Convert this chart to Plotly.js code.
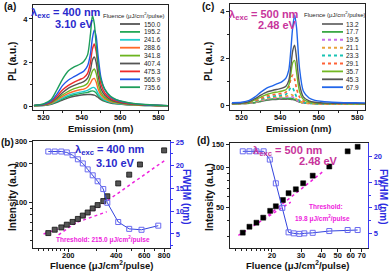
<!DOCTYPE html>
<html><head><meta charset="utf-8">
<script src="https://cdn.plot.ly/plotly-3.0.1.min.js"></script>
<style>html,body{margin:0;padding:0;background:#fff}#chart{width:392px;height:271px}</style>
</head><body><div id="chart"></div>
<script>
// ---------- DATA ----------
const wl = [515,520,524,527,530,533,536,539,541,543,544.5,545.5,546.5,547.5,548.5,550,552,555,558,562,567,573,579,585];

const fluA = ['150.0','195.2','241.6','288.6','341.8','407.4','475.3','565.9','735.6'];
const specA = [
 [0.02,0.03,0.08,0.17,0.28,0.38,0.45,0.50,0.52,0.53,0.53,0.52,0.50,0.46,0.40,0.30,0.22,0.14,0.10,0.07,0.05,0.03,0.02,0.02],
 [0.02,0.04,0.10,0.20,0.33,0.44,0.52,0.57,0.60,0.63,0.68,0.70,0.68,0.60,0.48,0.35,0.24,0.16,0.11,0.08,0.05,0.03,0.02,0.02],
 [0.02,0.04,0.11,0.24,0.38,0.50,0.58,0.64,0.67,0.72,0.80,0.85,0.85,0.75,0.58,0.40,0.27,0.18,0.13,0.09,0.06,0.04,0.03,0.02],
 [0.02,0.05,0.13,0.28,0.45,0.58,0.68,0.75,0.78,0.88,1.05,1.22,1.27,1.10,0.78,0.50,0.33,0.21,0.15,0.10,0.06,0.04,0.03,0.02],
 [0.02,0.05,0.15,0.32,0.52,0.68,0.80,0.88,0.93,1.05,1.35,1.60,1.70,1.50,1.05,0.62,0.40,0.25,0.17,0.11,0.07,0.04,0.03,0.02],
 [0.02,0.06,0.18,0.38,0.62,0.82,0.95,1.05,1.12,1.28,1.65,2.10,2.25,2.00,1.40,0.80,0.50,0.30,0.20,0.13,0.08,0.05,0.03,0.02],
 [0.03,0.07,0.20,0.45,0.75,0.95,1.10,1.22,1.30,1.50,2.00,2.60,2.85,2.50,1.80,1.00,0.60,0.35,0.23,0.15,0.09,0.05,0.03,0.02],
 [0.03,0.08,0.25,0.55,0.95,1.20,1.35,1.50,1.60,1.85,2.40,3.10,3.50,3.20,2.30,1.30,0.75,0.42,0.28,0.18,0.11,0.06,0.04,0.02],
 [0.03,0.10,0.30,0.75,1.25,1.62,1.80,1.92,2.05,2.35,3.30,4.15,3.80,2.80,1.90,1.20,0.78,0.45,0.30,0.20,0.12,0.07,0.04,0.02]
];

const fluC = ['13.2','17.7','19.5','21.1','23.3','29.1','35.7','45.3','67.9'];
const specC = [
 [0.05,0.06,0.08,0.10,0.15,0.20,0.23,0.25,0.25,0.25,0.25,0.24,0.23,0.21,0.18,0.13,0.09,0.07,0.06,0.05,0.05,0.05,0.05,0.05],
 [0.05,0.06,0.08,0.11,0.17,0.22,0.26,0.28,0.29,0.29,0.29,0.29,0.27,0.24,0.20,0.14,0.09,0.07,0.06,0.05,0.05,0.05,0.05,0.05],
 [0.05,0.06,0.09,0.12,0.19,0.25,0.29,0.31,0.32,0.33,0.35,0.36,0.34,0.29,0.22,0.14,0.09,0.07,0.06,0.05,0.05,0.05,0.05,0.05],
 [0.05,0.06,0.09,0.13,0.21,0.28,0.32,0.35,0.36,0.38,0.42,0.45,0.42,0.35,0.25,0.16,0.10,0.07,0.06,0.05,0.05,0.05,0.05,0.05],
 [0.05,0.07,0.10,0.15,0.24,0.32,0.37,0.40,0.42,0.46,0.60,0.75,0.72,0.55,0.35,0.20,0.12,0.08,0.06,0.05,0.05,0.05,0.05,0.05],
 [0.05,0.07,0.11,0.18,0.28,0.38,0.44,0.47,0.50,0.55,0.75,1.10,1.28,1.10,0.70,0.35,0.17,0.10,0.07,0.06,0.05,0.05,0.05,0.05],
 [0.05,0.07,0.13,0.22,0.34,0.45,0.52,0.56,0.60,0.65,0.85,1.30,1.80,1.90,1.40,0.60,0.25,0.13,0.09,0.07,0.06,0.06,0.05,0.05],
 [0.06,0.08,0.15,0.27,0.42,0.55,0.62,0.68,0.72,0.80,1.05,1.60,2.30,2.55,2.00,0.90,0.35,0.18,0.12,0.09,0.08,0.07,0.07,0.06],
 [0.10,0.12,0.20,0.35,0.55,0.72,0.82,0.92,1.00,1.15,1.50,2.30,3.30,3.85,3.30,1.60,0.60,0.30,0.20,0.15,0.12,0.10,0.10,0.09]
];

// panel (b)
const fluB   = [150,164.6,181,196,213,230,247,265,285,306,332,352,412,483,564,800];
const intB   = [57.5,61.1,63.7,66.9,70.3,74.2,78.8,83.3,89.6,95.2,102.4,111.6,140.7,164.7,197.9,255];
const fwhmFluB = [150,164.6,181,196,213,230,247,265,285,306,332,352,412,483,577,735];
const fwhmB  = [23.0,23.0,23.0,22.8,22.2,21.3,20.4,19.1,17.8,16.5,14.8,11.8,7.6,6.1,5.9,6.8];
const fitB1x = [140,349], fitB1y = [56.5,84.4];
const fitB2x = [174,807], fitB2y = [55.7,212.7];

// panel (d)
const fluD   = [13.3,14.6,16.1,17.7,19.5,21.1,23.3,25.2,27.9,30.9,35.3,44.5,57.5,66.1];
const intD   = [32.1,35.6,38.2,41.7,47.0,50.9,56.8,64.0,68.5,76.1,86.9,102,133,144];
const fwhmFluD = [13.3,14.6,16.1,17.8,19.4,21.1,23.1,25.2,27.1,29.3,31.4,35.3,44.5,57.5,66.1];
const fwhmD  = [21.07,21.07,21.07,21.07,19.45,14.8,10.0,5.2,5.0,4.9,5.0,5.1,5.45,5.65,5.65];
const fitD1x = [12.5,26], fitD1y = [30.6,54.7];
const fitD2x = [19,40.6], fitD2y = [43.5,93];

// ---------- STYLE ----------
const colA = ['#555555','#22a858','#22cccc','#ff6a2a','#6cb41f','#555555','#ee2b2b','#2156e8','#1e9e5a'];
const colC = ['#6a6a6a','#3aa845','#c86de8','#e9a23b','#19c3b4','#ff6237','#73b824','#555555','#2166ea'];
const dashC = ['solid','solid','dot','dot','dot','dot','solid','solid','solid'];
const FONT = 'Liberation Sans, Arial, sans-serif';
const W = 392, H = 271;
const px = x => x / W, py = y => 1 - y / H;
const blueC = '#2a2acc', pinkC = '#c8359c', magenta = '#ee22dd', fwhmC = '#3344dd';

const traces = [];
specA.forEach((s, i) => traces.push({x: wl, y: s, xaxis: 'x', yaxis: 'y', type: 'scatter', mode: 'lines',
  line: {color: colA[i], width: 1.4, shape: 'spline', smoothing: 0.7}, showlegend: false, hoverinfo: 'skip'}));
specC.forEach((s, i) => traces.push({x: wl, y: s, xaxis: 'x2', yaxis: 'y2', type: 'scatter', mode: 'lines',
  line: {color: colC[i], width: dashC[i] === 'dot' ? 1.7 : 1.4, dash: dashC[i], shape: 'spline', smoothing: 0.7},
  showlegend: false, hoverinfo: 'skip'}));

// (b)
traces.push({x: fitB1x, y: fitB1y, xaxis: 'x3', yaxis: 'y3', mode: 'lines', line: {color: magenta, width: 1.5, dash: 'dot'}, showlegend: false});
traces.push({x: fitB2x, y: fitB2y, xaxis: 'x3', yaxis: 'y3', mode: 'lines', line: {color: magenta, width: 1.5, dash: 'dot'}, showlegend: false});
traces.push({x: fluB, y: intB, xaxis: 'x3', yaxis: 'y3', mode: 'markers',
  marker: {symbol: 'square', size: 5, color: '#555555', line: {color: '#111', width: 0.8}}, showlegend: false});
traces.push({x: fwhmFluB, y: fwhmB, xaxis: 'x3', yaxis: 'y4', mode: 'lines+markers',
  line: {color: fwhmC, width: 1}, marker: {symbol: 'square-open', size: 5, color: '#6a6af0', line: {width: 1}}, showlegend: false});
// (d)
traces.push({x: fitD1x, y: fitD1y, xaxis: 'x4', yaxis: 'y5', mode: 'lines', line: {color: magenta, width: 1.5, dash: 'dot'}, showlegend: false});
traces.push({x: fitD2x, y: fitD2y, xaxis: 'x4', yaxis: 'y5', mode: 'lines', line: {color: magenta, width: 1.5, dash: 'dot'}, showlegend: false});
traces.push({x: fluD, y: intD, xaxis: 'x4', yaxis: 'y5', mode: 'markers',
  marker: {symbol: 'square', size: 5, color: '#000', line: {color: '#000', width: 0.5}}, showlegend: false});
traces.push({x: fwhmFluD, y: fwhmD, xaxis: 'x4', yaxis: 'y6', mode: 'lines+markers',
  line: {color: fwhmC, width: 1}, marker: {symbol: 'square-open', size: 5, color: '#6a6af0', line: {width: 1}}, showlegend: false});

const tickF = {family: FONT, size: 7.5, color: '#111', weight: 'bold'};
const tickFB = {family: FONT, size: 7.5, color: '#2a2ae0', weight: 'bold'};
function ax(o) {
  return Object.assign({showline: true, linecolor: '#222', linewidth: 1.2, mirror: true, ticks: 'outside',
    ticklen: 3, tickwidth: 1, tickcolor: '#222', showgrid: false, zeroline: false, tickfont: tickF,
    tickangle: 0, automargin: false, fixedrange: true}, o);
}
const mn = (vals, c) => ({tickvals: vals, ticks: 'outside', ticklen: 2, tickcolor: c || '#222'});

const layout = {
  width: W, height: H, margin: {l: 0, r: 0, t: 0, b: 0}, paper_bgcolor: '#fff', plot_bgcolor: '#fff',
  showlegend: false, font: {family: FONT},
  xaxis: ax({domain: [px(33), px(168)], anchor: 'y', range: [514.5, 585], tickvals: [520,540,560,580],
    ticklabelstandoff: -3, minor: mn([530,550,570])}),
  yaxis: ax({domain: [py(110), py(5)], anchor: 'x', range: [-0.18, 4.64], tickvals: [0,2,4], minor: mn([1,3])}),
  xaxis2: ax({domain: [px(230), px(365)], anchor: 'y2', range: [514, 584], tickvals: [520,540,560,580],
    ticklabelstandoff: -3, minor: mn([530,550,570])}),
  yaxis2: ax({domain: [py(110), py(4)], anchor: 'x2', range: [-0.21, 4.3], tickvals: [0,2,4], minor: mn([1,3])}),
  xaxis3: ax({domain: [px(33), px(170)], anchor: 'y3', type: 'log', range: [2.08, 2.94], tickvals: [200,400,600,800],
    ticklabelstandoff: -3, minor: mn([130,140,150,160,170,180,190,300,500,700])}),
  yaxis3: ax({domain: [py(248), py(141)], anchor: 'x3', type: 'log', range: [1.643, 2.48], tickvals: [100,200,300], mirror: false,
    minor: mn([50,60,70,80,90])}),
  yaxis4: ax({domain: [py(248), py(141)], anchor: 'x3', overlaying: 'y3', side: 'right', range: [1.92, 25.3],
    tickvals: [5,10,15,20,25], linecolor: '#3a3af0', tickcolor: '#3a3af0', tickfont: tickFB, mirror: false,
    minor: mn([2.5,7.5,12.5,17.5,22.5], '#3a3af0')}),
  xaxis4: ax({domain: [px(230), px(368)], anchor: 'y5', type: 'log', range: [1.0465, 1.883], tickvals: [20,30,40,50,60,70],
    ticklabelstandoff: -3, minor: mn([12,13,14,15,16,17,18,19])}),
  yaxis5: ax({domain: [py(248), py(143)], anchor: 'x4', type: 'log', range: [1.39, 2.187], tickvals: [50,100,150], mirror: false,
    minor: mn([30,40,60,70,80,90])}),
  yaxis6: ax({domain: [py(248), py(143)], anchor: 'x4', overlaying: 'y5', side: 'right', range: [2.13, 22.7],
    tickvals: [5,10,15,20], linecolor: '#3a3af0', tickcolor: '#3a3af0', tickfont: tickFB, mirror: false,
    minor: mn([7.5,12.5,17.5], '#3a3af0')}),
  shapes: [], annotations: []
};

const ann = (x, y, text, o) => layout.annotations.push(Object.assign({xref: 'paper', yref: 'paper', x: px(x), y: py(y),
  text, showarrow: false, xanchor: 'center', yanchor: 'middle', font: {family: FONT, size: 10, color: '#111', weight: 'bold'}}, o || {}));

// legends (a) and (c)
function legend(labels, cols, dashes, x0, x1, xl, y0, dy, titleX, titleY) {
  ann(titleX, titleY, 'Fluence (μJ/cm<sup>2</sup>/pulse)', {font: {family: FONT, size: 6, color: '#222'}});
  labels.forEach((t, i) => {
    const y = y0 + i * dy;
    layout.shapes.push({type: 'line', xref: 'paper', yref: 'paper', x0: px(x0), x1: px(x1), y0: py(y), y1: py(y),
      line: {color: cols[i], width: dashes[i] === 'dot' ? 2 : 1.8, dash: dashes[i]}});
    ann(xl, y, t, {xanchor: 'left', font: {family: FONT, size: 6.5, color: '#222'}});
  });
}
legend(fluA, colA, fluA.map(() => 'solid'), 120, 140, 142, 24, 7.9, 134, 15);
legend(fluC, colC, dashC, 322, 343, 344, 24, 7.9, 335, 14);

const bold = (s, c) => ({family: FONT, size: s, color: c || '#111', weight: 'bold'});
// panel labels
ann(10, 7, '(a)', {font: bold(10)});
ann(208, 6, '(c)', {font: bold(10)});
ann(8, 142, '(b)', {font: bold(10)});
ann(203, 141, '(d)', {font: bold(10)});

// axis titles
ann(12, 62, 'PL (a.u.)', {textangle: -90, font: bold(10)});
ann(208, 62, 'PL (a.u.)', {textangle: -90, font: bold(10)});
ann(101, 128.5, 'Emission (nm)', {font: bold(9.5)});
ann(298, 128.5, 'Emission (nm)', {font: bold(9.5)});
ann(12, 197, 'Intensity (a.u.)', {textangle: -90, font: bold(10)});
ann(209, 197, 'Intensity (a.u.)', {textangle: -90, font: bold(10)});
ann(187, 197, 'FWHM (nm)', {textangle: 90, font: bold(10, '#2a2ae0')});
ann(384, 197, 'FWHM (nm)', {textangle: 90, font: bold(10, '#2a2ae0')});
ann(102, 264.5, 'Fluence (μJ/cm<sup>2</sup>/pulse)', {font: bold(9.5)});
ann(298, 264.5, 'Fluence (μJ/cm<sup>2</sup>/pulse)', {font: bold(9.5)});

// excitation annotations
ann(66, 13, 'λ<sub>exc</sub> = 400 nm', {font: bold(11, blueC)});
ann(74, 24, '3.10 eV', {font: bold(11, blueC)});
ann(264, 15, 'λ<sub>exc</sub> = 500 nm', {font: bold(11, pinkC)});
ann(277, 25, '2.48 eV', {font: bold(11, pinkC)});
ann(110, 150, 'λ<sub>exc</sub> = 400 nm', {font: bold(11, blueC)});
ann(115, 163, '3.10 eV', {font: bold(11, blueC)});
ann(288, 151, 'λ<sub>exc</sub> = 500 nm', {font: bold(11, pinkC)});
ann(318, 161, '2.48 eV', {font: bold(11, pinkC)});
// thresholds
ann(103, 239, 'Threshold: 215.0 μJ/cm<sup>2</sup>/pulse', {font: bold(6.5, magenta)});
ann(326, 206, 'Threshold:', {font: bold(6.5, magenta)});
ann(322, 218, '19.8 μJ/cm<sup>2</sup>/pulse', {font: bold(6.5, magenta)});

Plotly.newPlot('chart', traces, layout, {staticPlot: true, displayModeBar: false});
</script></body></html>
